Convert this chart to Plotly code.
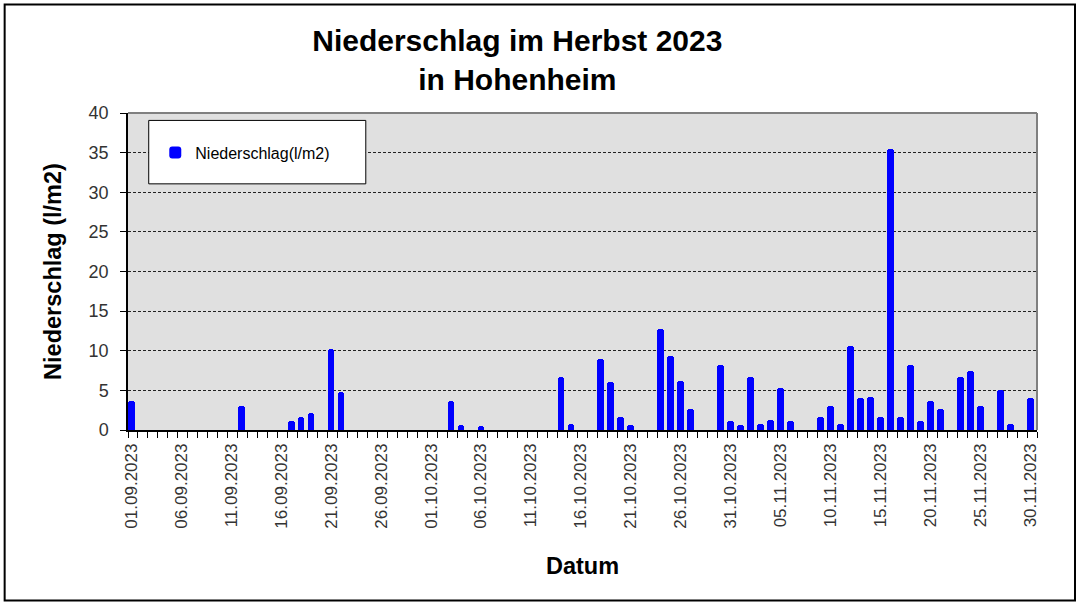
import plotly.graph_objects as go

# Rainy days (days not listed had 0 l/m2)
dates = [
    "2023-09-01", "2023-09-12", "2023-09-17", "2023-09-18", "2023-09-19",
    "2023-09-21", "2023-09-22", "2023-10-03", "2023-10-04", "2023-10-06",
    "2023-10-14", "2023-10-15", "2023-10-18", "2023-10-19", "2023-10-20",
    "2023-10-21", "2023-10-24", "2023-10-25", "2023-10-26", "2023-10-27",
    "2023-10-30", "2023-10-31", "2023-11-01", "2023-11-02", "2023-11-03",
    "2023-11-04", "2023-11-05", "2023-11-06", "2023-11-09", "2023-11-10",
    "2023-11-11", "2023-11-12", "2023-11-13", "2023-11-14", "2023-11-15",
    "2023-11-16", "2023-11-17", "2023-11-18", "2023-11-19", "2023-11-20",
    "2023-11-21", "2023-11-23", "2023-11-24", "2023-11-25", "2023-11-27",
    "2023-11-28", "2023-11-30",
]
niederschlag = [
    3.6, 3.0, 1.1, 1.6, 2.2,
    10.2, 4.8, 3.6, 0.6, 0.5,
    6.7, 0.8, 9.0, 6.1, 1.6,
    0.6, 12.7, 9.3, 6.2, 2.7,
    8.2, 1.1, 0.6, 6.7, 0.8,
    1.2, 5.3, 1.1, 1.7, 3.0,
    0.8, 10.6, 4.0, 4.2, 1.7,
    35.5, 1.7, 8.2, 1.1, 3.6,
    2.6, 6.7, 7.5, 3.0, 5.0,
    0.7, 4.0,
]

x_range = ["2023-08-31 16:00", "2023-11-30 16:00"]
y_ticks = [0, 5, 10, 15, 20, 25, 30, 35, 40]

FONT = "Arial, Liberation Sans, sans-serif"

fig = go.Figure()
fig.add_trace(go.Bar(
    x=dates, y=niederschlag, name="Niederschlag(l/m2)",
    marker=dict(color="#0000ff", line=dict(width=0), cornerradius=3),
    width=0.67 * 86400000,
))

fig.update_layout(
    width=1080, height=603,
    margin=dict(l=128, r=43, t=113, b=173),
    paper_bgcolor="white",
    plot_bgcolor="#e0e0e0",
    font=dict(family=FONT, color="#333333"),
    title=dict(
        text="Niederschlag im Herbst 2023<br>in Hohenheim",
        x=0.479, xref="container", xanchor="center",
        y=1 - 51 / 603, yref="container", yanchor="middle",
        font=dict(family=FONT, size=30, color="black", weight="bold"),
    ),
    showlegend=True,
    legend=dict(
        x=0.03, y=0.875, xanchor="left", yanchor="middle",
        bgcolor="rgba(0,0,0,0)", borderwidth=0,
        font=dict(family=FONT, size=16, color="black"),
    ),
    bargap=0,
)

fig.update_xaxes(
    type="date",
    range=x_range,
    tick0="2023-09-01", dtick=5 * 86400000,
    tickformat="%d.%m.%Y", tickangle=-90,
    ticks="", ticklabelstandoff=5,
    tickfont=dict(family=FONT, size=17, color="#333333"),
    minor=dict(ticks="outside", ticklen=6, tickcolor="black",
               tick0="2023-08-31 16:00", dtick=86400000, showgrid=False),
    showgrid=False, showline=True, linecolor="black", linewidth=1.5,
    title=dict(text="Datum", standoff=30,
               font=dict(family=FONT, size=23.5, color="black", weight="bold")),
)

fig.update_yaxes(
    range=[0, 40], tickvals=y_ticks,
    ticks="outside", ticklen=6, tickcolor="black",
    ticklabelstandoff=8,
    tickfont=dict(family=FONT, size=18, color="#333333"),
    showgrid=True, gridcolor="#222222", gridwidth=1, griddash="3px,2px",
    zeroline=False, showline=True, linecolor="black", linewidth=1.5,
    title=dict(text="Niederschlag (l/m2)", standoff=20,
               font=dict(family=FONT, size=23.5, color="black", weight="bold")),
)

# plot-area border (top / right) and legend box, outer chart frame
fig.add_shape(type="line", xref="paper", yref="paper", x0=0, x1=1, y0=1, y1=1,
              line=dict(color="#808080", width=2))
fig.add_shape(type="line", xref="paper", yref="paper", x0=1, x1=1, y0=0, y1=1,
              line=dict(color="#808080", width=2))
fig.add_shape(type="rect", xref="paper", yref="paper",
              x0=0.0228, x1=0.2616, y0=0.7765, y1=0.9766,
              fillcolor="white", line=dict(color="black", width=1), layer="above")
fig.add_shape(type="rect", xref="paper", yref="paper",
              x0=-0.1357, x1=1.0418, y0=-0.5382, y1=1.3423,
              line=dict(color="black", width=2), fillcolor="rgba(0,0,0,0)")

fig.write_html("out.html", config={"displayModeBar": False})

# remove the browser's default page margin so the figure sits at (0, 0)
with open("out.html", "r", encoding="utf-8") as f:
    html = f.read()
html = html.replace("<body>", '<body style="margin:0;padding:0;">', 1)
with open("out.html", "w", encoding="utf-8") as f:
    f.write(html)
